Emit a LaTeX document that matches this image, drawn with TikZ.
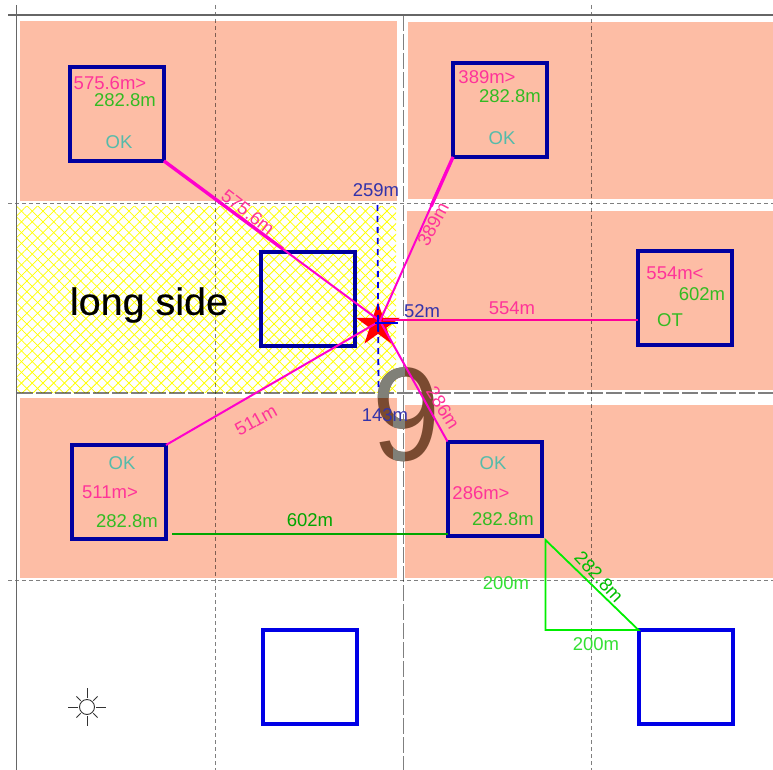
\documentclass[tikz,border=0pt]{standalone}
\usepackage{fontspec}
\setmainfont{Liberation Sans}
\newfontfamily\longfont[FakeBold=0.5]{Liberation Sans}
\usetikzlibrary{patterns.meta,shapes.geometric}
\definecolor{peach}{HTML}{FDBDA5}
\definecolor{navyblue}{HTML}{0000A0}
\definecolor{plainblue}{HTML}{0000E6}
\definecolor{linkpink}{HTML}{FF00CC}
\definecolor{linkrose}{HTML}{FF0099}
\definecolor{textpink}{HTML}{FF3399}
\definecolor{textgreen}{HTML}{33BB22}
\definecolor{textteal}{HTML}{55BBAA}
\definecolor{linkgreen}{HTML}{00EE00}
\definecolor{lightgreen}{HTML}{33E033}
\definecolor{distblue}{HTML}{3333AA}
\definecolor{ninebrown}{HTML}{7A4A30}
\definecolor{ninegray}{HTML}{808078}
\begin{document}
\begin{tikzpicture}[x=1pt,y=-1pt,
plot/.style={fill=peach,draw=none},
hatchl/.style={pattern={Lines[angle=45,distance=7.6pt,line width=.8pt]},pattern color=yellow},
hatchr/.style={pattern={Lines[angle=-45,distance=7.6pt,line width=.8pt]},pattern color=yellow},
grid line/.style={black,opacity=.5,line width=.9pt,dash pattern=on 4pt off 3pt},
long line/.style={black,opacity=.5,line width=1.2pt,dash pattern=on 16pt off 3pt},
frame line/.style={black!60,line width=1.7pt},
main box/.style={rectangle,draw=navyblue,line width=4pt,minimum size=94pt,inner sep=0pt,outer sep=0pt},
free box/.style={main box,draw=plainblue},
dist/.style={font=\fontsize{18.5}{18.5}\selectfont,inner sep=0pt},
pinktxt/.style={dist,textpink},
greentxt/.style={dist,textgreen},
oktxt/.style={dist,textteal},
bluetxt/.style={dist,distblue},
lighttxt/.style={dist,lightgreen},
thin link/.style={draw=linkpink,line width=2pt},
thick link/.style={draw=linkpink,line width=3.4pt}]
\useasboundingbox (0,0) rectangle (773,770);
\fill[plot] (20,21) rectangle (397,201);
\fill[plot] (408,22) rectangle (773,199);
\fill[plot] (407,211) rectangle (773,390);
\fill[plot] (20,398) rectangle (397,578);
\fill[plot] (405,405) rectangle (773,578);
\fill[white] (17,206) rectangle (396,392);
\path[hatchl] (17,206) rectangle (396,392);
\path[hatchr] (17,206) rectangle (396,392);

\draw[grid line] (8,203) -- (773,203);
\draw[grid line] (8,580) -- (773,580);
\draw[long line] (17,393) -- (773,393);
\draw[grid line] (215,5) -- (215,770);
\draw[grid line] (591,5) -- (591,770);
\draw[long line] (403.5,15) -- (403.5,770);
\draw[frame line] (8,15) -- (773,15);
\draw[frame line] (16.5,5) -- (16.5,770);

\node[font=\fontsize{133}{133}\selectfont,ninebrown,inner sep=0pt,xscale=.92] (nine) at (407,415) {9};
\begin{scope}
\clip (17,206) rectangle (404,397) (393,397) rectangle (404,480);
\node[font=\fontsize{133}{133}\selectfont,ninegray,inner sep=0pt,xscale=.92] (ninetop) at (407,415) {9};
\end{scope}

\node[font=\longfont\fontsize{38}{38}\selectfont,inner sep=0pt,xscale=1.04] (long) at (149,305) {long side};

\node[main box] (boxa) at (117,114) {};
\node[main box] (boxb) at (500,110) {};
\node[main box] (boxc) at (308,298.5) {};
\node[main box] (boxd) at (685,298) {};
\node[main box] (boxe) at (119,492) {};
\node[main box] (boxf) at (494.5,488.5) {};
\node[free box] (boxg) at (310,677) {};
\node[free box] (boxh) at (685.5,677) {};

\node[star,star points=5,star point ratio=2.6,fill=red,minimum size=46pt,inner sep=0pt] (st) at (378,325) {};
\coordinate (hub) at (380,321);
\coordinate (hubd) at (383,319.5);
\coordinate (dside) at (638,319.5);
\coordinate (greenl) at (172,534);
\coordinate (greenr) at (448,534);
\coordinate (tria) at (545.5,540);
\coordinate (trib) at (545.5,630);
\coordinate (dashtop) at (377.5,205);
\coordinate (dashbot) at (378.5,392);
\coordinate (crossl) at (375,323);
\coordinate (crossr) at (398,323);
\coordinate (crosst) at (378,316);
\coordinate (crossb) at (378,331);

\path[thin link]
	(boxa.south east) edge (hub)
	(boxb.south west) edge (hub)
	(boxe.north east) edge (hub)
	(boxf.north west) edge (hub)
	;
\path (boxa.south east) -- (hub) coordinate[pos=.55] (thka);
\path (boxb.south west) -- (hub) coordinate[pos=.3] (thkb);
\path[thick link]
	(boxa.south east) edge (thka)
	(boxb.south west) edge (thkb)
	;
\draw[linkrose,line width=2pt] (dside) -- (hubd);
\draw[plainblue,line width=1.8pt,dash pattern=on 6pt off 5pt] (dashtop) -- (dashbot);
\draw[plainblue,line width=1.8pt] (crossl) -- (crossr);
\draw[plainblue,line width=1.8pt] (crosst) -- (crossb);

\draw[green!65!black,line width=1.8pt] (greenl) -- (greenr);
\draw[linkgreen,line width=1.8pt] (tria) -- (trib) -- (boxh.north west) -- cycle;

\node[pinktxt,rotate=-38] (la) at (248,212) {575.6m};
\node[pinktxt,rotate=62] (lb) at (433,224) {389m};
\node[pinktxt] (ld) at (512,308) {554m};
\node[pinktxt,rotate=29] (le) at (256,420) {511m};
\node[pinktxt,rotate=-58] (lf) at (443,408) {286m};
\node[bluetxt] (lup) at (376,190) {259m};
\node[bluetxt] (lrt) at (422,311) {52m};
\node[bluetxt] (ldn) at (385,415) {143m};
\node[dist,green!65!black] (lgr) at (310,520) {602m};
\node[dist,green!75!black,rotate=-47] (ldiag) at (599,577) {282.8m};
\node[lighttxt] (lv) at (506,583) {200m};
\node[lighttxt] (lh) at (596,644) {200m};

\node[pinktxt] (a1) at (110,83) {575.6m>};
\node[greentxt] (a2) at (125,100) {282.8m};
\node[oktxt] (a3) at (119,142) {OK};
\node[pinktxt] (b1) at (487,77) {389m>};
\node[greentxt] (b2) at (510,96) {282.8m};
\node[oktxt] (b3) at (502,138) {OK};
\node[pinktxt] (d1) at (675,273) {554m<};
\node[greentxt] (d2) at (702,294) {602m};
\node[greentxt] (d3) at (670,320) {OT};
\node[oktxt] (e1) at (122,463) {OK};
\node[pinktxt] (e2) at (110,492) {511m>};
\node[greentxt] (e3) at (127,521) {282.8m};
\node[oktxt] (f1) at (493,463) {OK};
\node[pinktxt] (f2) at (481,493) {286m>};
\node[greentxt] (f3) at (503,519) {282.8m};

\node[circle,draw=black!80,fill=white,line width=.9pt,minimum size=15pt,inner sep=0pt] (sun) at (87,707) {};
\foreach \ang in {0,90,180,270}
	\draw[black!80,line width=.9pt] (sun) ++(\ang:9pt) -- ++(\ang:10pt);
\foreach \ang in {45,135,225,315}
	\draw[black!80,line width=.9pt] (sun) ++(\ang:9pt) -- ++(\ang:6pt);
\end{tikzpicture}
\end{document}
